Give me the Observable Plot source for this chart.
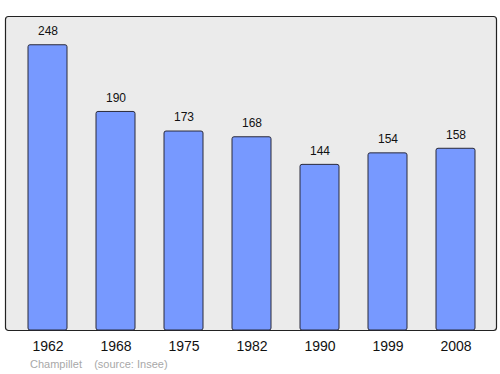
<!DOCTYPE html>
<html>
<head>
<meta charset="utf-8">
<script src="https://cdn.jsdelivr.net/npm/d3@7"></script>
<script src="https://cdn.jsdelivr.net/npm/@observablehq/plot@0.6"></script>
<style>
  html, body { margin: 0; padding: 0; background: #fff; }
  #wrap { position: relative; width: 500px; height: 374px; font-family: "Liberation Sans", Arial, sans-serif; }
  #caption { position: absolute; left: 30px; top: 358px; font-size: 11px; color: #a8a8a8; white-space: pre; }
</style>
</head>
<body>
<div id="wrap"><div id="chart"></div><div id="caption">Champillet    (source: Insee)</div></div>
<script>
const years = ["1962", "1968", "1975", "1982", "1990", "1999", "2008"];
const population = [248, 190, 173, 168, 144, 154, 158];

const data = years.map((y, i) => ({year: y, pop: population[i]}));

const chart = Plot.plot({
  width: 500,
  height: 356,
  marginTop: 16,
  marginBottom: 26,
  marginLeft: 5,
  marginRight: 4,
  style: {fontFamily: "Liberation Sans, Arial, sans-serif", background: "transparent"},
  x: {domain: years, range: [11.25, 490.75], paddingInner: 0.43, paddingOuter: 0.215, label: null},
  y: {domain: [0, 273], axis: null},
  marks: [
    Plot.frame({fill: "#ebebeb", stroke: "#222", strokeWidth: 1.2, rx: 3}),
    Plot.barY(data, {x: "year", y: "pop", fill: "#7799ff", stroke: "#2a2a3a", strokeWidth: 1, rx: 2}),
    Plot.text(data, {x: "year", y: "pop", text: d => String(d.pop), dy: -14, fontSize: 12, fill: "#111"}),
    Plot.axisX({tickSize: 0, tickPadding: 11, fontSize: 14, color: "#111", label: null})
  ]
});
document.getElementById("chart").appendChild(chart);
</script>
</body>
</html>
